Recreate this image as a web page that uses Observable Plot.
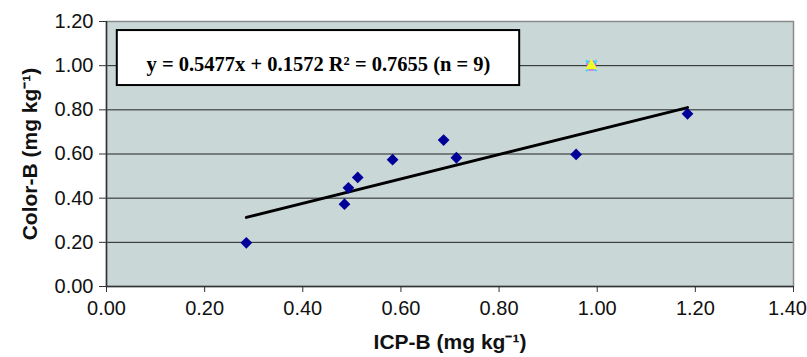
<!DOCTYPE html>
<html>
<head>
<meta charset="utf-8">
<script src="https://cdn.jsdelivr.net/npm/d3@7"></script>
<script src="https://cdn.jsdelivr.net/npm/@observablehq/plot@0.6"></script>
<style>
  html, body { margin: 0; padding: 0; background: #fff; }
  #chart svg { display: block; }
</style>
</head>
<body>
<div id="chart"></div>
<script>
// Measured points (ICP-B vs Color-B)
const icpB   = [0.285, 0.485, 0.493, 0.512, 0.583, 0.687, 0.713, 0.957, 1.184];
const colorB = [0.198, 0.373, 0.447, 0.494, 0.574, 0.663, 0.583, 0.598, 0.782];
// Excluded point (triangle marker)
const outlierX = [0.988];
const outlierY = [1.0];
// Regression line endpoints
const trendX = [0.285, 1.184];
const trendY = [0.313, 0.810];
// Ticks
const xTicks = [0, 0.2, 0.4, 0.6, 0.8, 1.0, 1.2, 1.4];
const yTicks = [0, 0.2, 0.4, 0.6, 0.8, 1.0, 1.2];
const equation = "y = 0.5477x + 0.1572 R\u00B2 = 0.7655 (n = 9)";
const xLabel = "ICP-B (mg kg\u207B\u00B9)";
const yLabel = "Color-B (mg kg\u207B\u00B9)";

const points = icpB.map((x, i) => ({x, y: colorB[i]}));
const outliers = outlierX.map((x, i) => ({x, y: outlierY[i]}));
const trend = trendX.map((x, i) => ({x, y: trendY[i]}));
const fmt = d3.format(".2f");
const lastX = xTicks[xTicks.length - 1];

const chart = Plot.plot({
  width: 807,
  height: 357,
  marginLeft: 106,
  marginRight: 14,
  marginTop: 21,
  marginBottom: 71,
  style: {fontFamily: "'Liberation Sans', Arial, sans-serif", fontSize: "20px", color: "#111", background: "#fff"},
  x: {domain: [0, 1.4]},
  y: {domain: [0, 1.2]},
  marks: [
    Plot.frame({fill: "#C9D7D7", stroke: "none"}),
    Plot.gridY(yTicks.filter(d => d > 0 && d < 1.2), {stroke: "#222", strokeOpacity: 1, strokeWidth: 1}),
    Plot.frame({stroke: "#8a8a8a", strokeWidth: 1.5}),
    Plot.ruleX([0], {stroke: "#333", strokeWidth: 1.5}),
    Plot.ruleY([0], {stroke: "#333", strokeWidth: 1.5}),
    // x tick marks only
    Plot.axisX(xTicks, {tickSize: 6, stroke: "#333", tickFormat: () => "", label: null}),
    // x tick labels (last one nudged inward to stay inside the page)
    Plot.axisX(xTicks.filter(d => d !== lastX), {tickSize: 0, tickPadding: 14, fill: "#111", fontSize: 20,
      tickFormat: fmt, label: null}),
    Plot.axisX([lastX], {tickSize: 0, tickPadding: 14, fill: "#111", fontSize: 20,
      tickFormat: fmt, label: null, dx: -6}),
    Plot.axisY(yTicks, {tickSize: 7, tickPadding: 6, stroke: "#333", fill: "#111", fontSize: 20,
      tickFormat: fmt, label: null}),
    Plot.text([xLabel], {frameAnchor: "bottom", dy: 56, lineAnchor: "middle", textAnchor: "middle",
      text: d => d, fontWeight: "bold", fontSize: 21, fill: "#111"}),
    Plot.text([yLabel], {frameAnchor: "left", dx: -76, rotate: -90, lineAnchor: "middle", textAnchor: "middle",
      text: d => d, fontWeight: "bold", fontSize: 21, fill: "#111"}),
    // equation box
    Plot.rect([0], {x1: 0.022, x2: 0.842, y1: 0.910, y2: 1.159, fill: "#fff", stroke: "#000", strokeWidth: 2}),
    Plot.text([equation], {x: 0.432, y: 1.005, text: d => d, fontFamily: "'Liberation Serif', 'Times New Roman', serif",
      fontWeight: "bold", fontSize: 20.5, fill: "#000", textAnchor: "middle"}),
    Plot.line(trend, {x: "x", y: "y", stroke: "#000", strokeWidth: 3}),
    Plot.dot(points, {x: "x", y: "y", symbol: "diamond2", r: 5.3, fill: "#000099", stroke: "none"}),
    Plot.dot(outliers, {x: "x", y: "y", symbol: "square", r: 5.5, fill: "#cc55ff", stroke: "none"}),
    Plot.dot(outliers, {x: "x", y: "y", symbol: "times", r: 5, stroke: "#33ddff", strokeWidth: 2}),
    Plot.dot(outliers, {x: "x", y: "y", symbol: "triangle", r: 4.5, fill: "#eeff22", stroke: "none"})
  ]
});
document.getElementById("chart").appendChild(chart);
</script>
</body>
</html>
